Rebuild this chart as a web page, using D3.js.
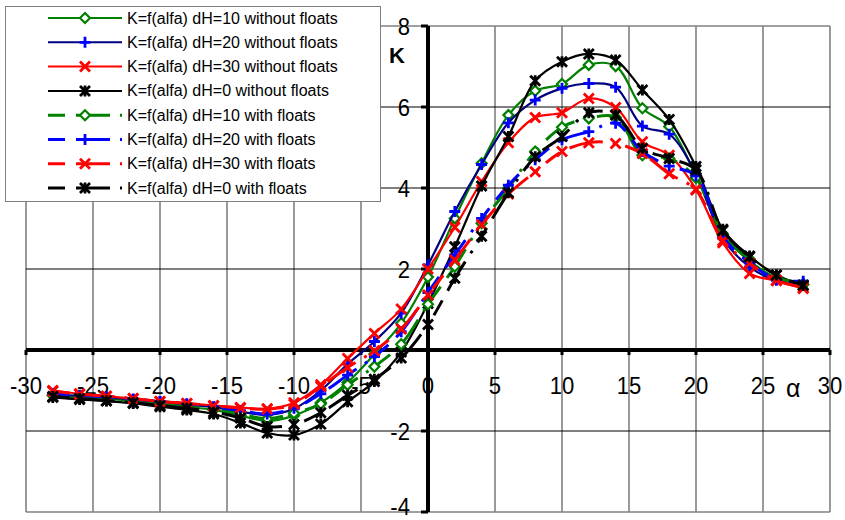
<!DOCTYPE html>
<html>
<head>
<meta charset="utf-8">
<script src="https://cdn.jsdelivr.net/npm/d3@7/dist/d3.min.js"></script>
<style>
body { margin: 0; background: #fff; }
svg  { font-family: "Liberation Sans", Arial, sans-serif; }
</style>
</head>
<body>
<svg id="chart" width="845" height="520"></svg>
<script>
/* Data: K = f(alfa) */

var ALPHA = [-28, -26, -24, -22, -20, -18, -16, -14, -12, -10, -8, -6, -4, -2, 0,
              2, 4, 6, 8, 10, 12, 14, 16, 18, 20, 22, 24, 26, 28];

var K_DH10_NO = [-1.12, -1.17, -1.21, -1.26, -1.33, -1.40, -1.48, -1.62, -1.75, -1.62, -1.30, -0.80, -0.10, 0.66, 1.80,
                  3.25, 4.61, 5.80, 6.40, 6.57, 7.04, 7.01, 5.97, 5.52, 4.30, 2.84, 2.20, 1.78, 1.62];
var K_DH20_NO = [-1.10, -1.13, -1.17, -1.22, -1.28, -1.34, -1.41, -1.52, -1.60, -1.45, -1.00, -0.35, 0.21, 0.91, 2.10,
                  3.42, 4.58, 5.61, 6.17, 6.46, 6.58, 6.49, 5.53, 5.33, 4.35, 2.76, 2.05, 1.72, 1.65];
var K_DH30_NO = [-1.00, -1.08, -1.14, -1.20, -1.27, -1.32, -1.37, -1.42, -1.45, -1.30, -0.86, -0.21, 0.41, 1.01, 2.00,
                  3.03, 4.16, 5.12, 5.74, 5.86, 6.21, 5.99, 5.14, 4.81, 3.97, 2.65, 1.89, 1.71, 1.52];
var K_DH0_NO  = [-1.17, -1.22, -1.26, -1.32, -1.40, -1.48, -1.58, -1.80, -2.05, -2.10, -1.83, -1.28, -0.78, -0.05, 1.15,
                  2.55, 4.05, 5.27, 6.65, 7.12, 7.31, 7.16, 6.42, 5.69, 4.53, 2.98, 2.32, 1.85, 1.60];

var K_DH10_FL = [-1.12, -1.16, -1.20, -1.25, -1.30, -1.37, -1.45, -1.58, -1.70, -1.56, -1.33, -0.86, -0.41, 0.14, 1.13,
                  2.06, 3.13, 4.00, 4.90, 5.50, 5.72, 5.75, 4.81, 4.73, 4.25, 2.85, 2.25, 1.80, 1.62];
var K_DH20_FL = [-1.08, -1.12, -1.16, -1.21, -1.27, -1.33, -1.40, -1.50, -1.58, -1.44, -1.08, -0.62, -0.16, 0.45, 1.42,
                  2.35, 3.25, 4.07, 4.70, 5.19, 5.39, 5.60, 4.90, 4.54, 4.30, 2.80, 2.15, 1.75, 1.70];
var K_DH30_FL = [-1.02, -1.09, -1.14, -1.20, -1.27, -1.32, -1.38, -1.43, -1.46, -1.34, -0.90, -0.43, -0.02, 0.52, 1.36,
                  2.22, 3.09, 3.85, 4.40, 4.90, 5.12, 5.10, 4.85, 4.35, 3.95, 2.70, 2.14, 1.72, 1.55];
var K_DH0_FL  = [-1.15, -1.20, -1.25, -1.30, -1.37, -1.44, -1.53, -1.68, -1.89, -1.84, -1.55, -1.12, -0.72, -0.20, 0.63,
                  1.77, 2.81, 3.88, 4.77, 5.27, 5.86, 5.80, 4.98, 4.73, 4.45, 2.95, 2.30, 1.85, 1.60];

var SERIES_LABELS = ["K=f(alfa) dH=10 without floats", "K=f(alfa) dH=20 without floats",
                     "K=f(alfa) dH=30 without floats", "K=f(alfa) dH=0 without floats",
                     "K=f(alfa) dH=10 with floats",    "K=f(alfa) dH=20 with floats",
                     "K=f(alfa) dH=30 with floats",    "K=f(alfa) dH=0 with floats"];

var X_TICKS = [-30, -25, -20, -15, -10, -5, 0, 5, 10, 15, 20, 25, 30];
var Y_TICKS = [-4, -2, 2, 4, 6, 8];

/* Measures */

var W = 845,
    H = 520;

var PLOT = { left: 26, right: 830, top: 26, bottom: 512 };

var DASH = "17,11,34,10,3,10";

var TICK_FONT = 24,
    TICK_SQUEEZE = 0.92;

var LEGEND = { x: 5, y: 6, width: 375, height: 195,
               lineX1: 48, lineX2: 122, markerX: 85, textX: 127,
               firstRow: 18, rowHeight: 24.3 };

var series = [
	{ values: K_DH10_NO, color: "#008000", markerColor: "#008000", marker: "diamond", dashed: false },
	{ values: K_DH20_NO, color: "#000080", markerColor: "#0000ff", marker: "plus",    dashed: false },
	{ values: K_DH30_NO, color: "#ff0000", markerColor: "#ff0000", marker: "cross",   dashed: false },
	{ values: K_DH0_NO,  color: "#000000", markerColor: "#000000", marker: "star",    dashed: false },
	{ values: K_DH10_FL, color: "#008000", markerColor: "#008000", marker: "diamond", dashed: true },
	{ values: K_DH20_FL, color: "#0000ff", markerColor: "#0000ff", marker: "plus",    dashed: true },
	{ values: K_DH30_FL, color: "#ff0000", markerColor: "#ff0000", marker: "cross",   dashed: true },
	{ values: K_DH0_FL,  color: "#000000", markerColor: "#000000", marker: "star",    dashed: true }
];
series.forEach(function(s, i) { s.label = SERIES_LABELS[i]; });

var MARKER_PATHS = {
	diamond: "M0,-5L5,0L0,5L-5,0Z",
	plus:    "M-5.5,0H5.5M0,-5.5V5.5",
	cross:   "M-5,-5L5,5M-5,5L5,-5",
	star:    "M-5,-5L5,5M-5,5L5,-5M0,-5.5V5.5"
};

var svg = d3.select("#chart");

var x = d3.scaleLinear().domain([-30, 30]).range([PLOT.left, PLOT.right]),
    y = d3.scaleLinear().domain([-4, 8]).range([PLOT.bottom, PLOT.top]);

function drawGrid() {
	var grid = svg.append("g").attr("class", "grid");

	grid.selectAll("line.v")
		.data(X_TICKS)
		.enter().append("line")
		.attr("class", "v")
		.attr("x1", function(d) { return x(d); })
		.attr("x2", function(d) { return x(d); })
		.attr("y1", PLOT.top)
		.attr("y2", PLOT.bottom)
		.attr("stroke", "#808080")
		.attr("stroke-width", 1.6);

	grid.selectAll("line.h")
		.data(Y_TICKS)
		.enter().append("line")
		.attr("class", "h")
		.attr("x1", PLOT.left)
		.attr("x2", PLOT.right)
		.attr("y1", function(d) { return y(d); })
		.attr("y2", function(d) { return y(d); })
		.attr("stroke", function(d) { return (d === 8 || d === -4) ? "#808080" : "#000"; })
		.attr("stroke-width", function(d) { return (d === 8 || d === -4) ? 1.6 : 1; });
}

// tick labels are a little taller and narrower than plain Arial
function tickLabel(sel, px, py, anchor) {
	sel.attr("transform", function(d) { return "translate(" + px(d) + "," + py(d) + ") scale(" + TICK_SQUEEZE + ",1)"; })
		.attr("text-anchor", anchor)
		.attr("font-size", TICK_FONT)
		.text(String);
}

function drawAxes() {
	var axes = svg.append("g").attr("class", "axes");

	// x axis along K = 0
	axes.append("line")
		.attr("x1", PLOT.left).attr("x2", PLOT.right)
		.attr("y1", y(0)).attr("y2", y(0))
		.attr("stroke", "#000").attr("stroke-width", 4);

	axes.selectAll("rect.xtick")
		.data(X_TICKS)
		.enter().append("rect")
		.attr("class", "xtick")
		.attr("x", function(d) { return x(d) - 1.5; })
		.attr("y", y(0))
		.attr("width", 3)
		.attr("height", 5);

	axes.selectAll("text.xlabel")
		.data(X_TICKS)
		.enter().append("text")
		.attr("class", "xlabel")
		.call(tickLabel, function(d) { return x(d); }, function() { return y(0) + 44; }, "middle");

	// y axis along alfa = 0
	axes.append("line")
		.attr("x1", x(0)).attr("x2", x(0))
		.attr("y1", PLOT.top).attr("y2", PLOT.bottom)
		.attr("stroke", "#000").attr("stroke-width", 4);

	axes.selectAll("rect.ytick")
		.data(Y_TICKS)
		.enter().append("rect")
		.attr("class", "ytick")
		.attr("x", x(0) - 7)
		.attr("y", function(d) { return y(d) - 1.5; })
		.attr("width", 7)
		.attr("height", 3);

	// the lowest label sits against the bottom edge, keep it inside
	axes.selectAll("text.ylabel")
		.data(Y_TICKS)
		.enter().append("text")
		.attr("class", "ylabel")
		.call(tickLabel, function() { return x(0) - 18; }, function(d) { return Math.min(y(d) + 8.5, H - 5); }, "end");

	axes.append("text")
		.attr("x", 389).attr("y", 63)
		.attr("font-size", 22).attr("font-weight", "bold")
		.text("K");

	axes.append("text")
		.attr("x", 786).attr("y", 397)
		.attr("font-size", 25)
		.text("\u03b1");
}

function drawMarkers(g, s, points) {
	g.selectAll("path.marker")
		.data(points)
		.enter().append("path")
		.attr("class", "marker")
		.attr("transform", function(d) { return "translate(" + d[0] + "," + d[1] + ")"; })
		.attr("d", MARKER_PATHS[s.marker])
		.attr("fill", s.marker === "diamond" ? "#fff" : "none")
		.attr("stroke", s.markerColor)
		.attr("stroke-width", s.marker === "diamond" ? 2.2 : 2.8);
}

function drawSeries() {
	var line = d3.line().curve(d3.curveCatmullRom.alpha(0.5));

	series.forEach(function(s) {
		var points = ALPHA.map(function(a, i) { return [x(a), y(s.values[i])]; });
		var g = svg.append("g").attr("class", "series");

		g.append("path")
			.attr("d", line(points))
			.attr("fill", "none")
			.attr("stroke", s.color)
			.attr("stroke-width", s.dashed ? 3 : 2.2)
			.attr("stroke-dasharray", s.dashed ? DASH : null);

		drawMarkers(g, s, points);
	});
}

function drawLegend() {
	var legend = svg.append("g").attr("id", "legend");

	legend.append("rect")
		.attr("x", LEGEND.x + 0.5).attr("y", LEGEND.y + 0.5)
		.attr("width", LEGEND.width).attr("height", LEGEND.height)
		.attr("fill", "#fff")
		.attr("stroke", "#808080")
		.attr("stroke-width", 1);

	var rows = legend.selectAll("g.row")
		.data(series)
		.enter().append("g")
		.attr("class", "row")
		.attr("transform", function(d, i) { return "translate(0," + (LEGEND.firstRow + i * LEGEND.rowHeight) + ")"; });

	rows.append("line")
		.attr("x1", LEGEND.lineX1).attr("x2", LEGEND.lineX2)
		.attr("stroke", function(d) { return d.color; })
		.attr("stroke-width", function(d) { return d.dashed ? 3 : 2; })
		.attr("stroke-dasharray", function(d) { return d.dashed ? DASH : null; });

	rows.each(function(d) {
		drawMarkers(d3.select(this), d, [[LEGEND.markerX, 0]]);
	});

	rows.append("text")
		.attr("x", LEGEND.textX)
		.attr("y", 5.5)
		.attr("font-size", 16)
		.text(function(d) { return d.label; });
}

drawGrid();
drawAxes();
drawSeries();
drawLegend();
</script>
</body>
</html>
